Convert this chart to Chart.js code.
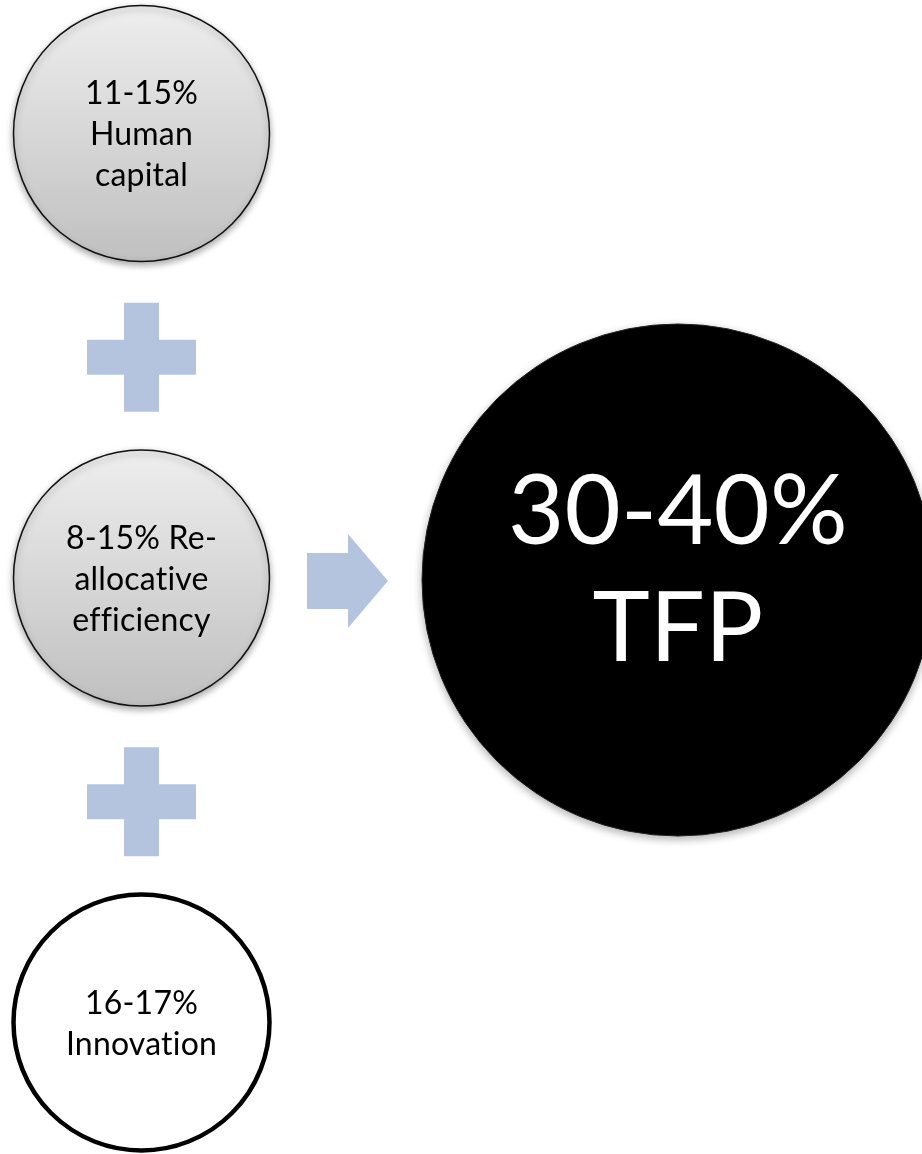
<!DOCTYPE html>
<html>
<head>
<meta charset="utf-8">
<script src="https://cdn.jsdelivr.net/npm/chart.js@4.4.0/dist/chart.umd.min.js"></script>
<style>
  html, body { margin: 0; padding: 0; background: #fff; }
  #wrap { width: 922px; height: 1154px; position: relative; }
</style>
</head>
<body>
<div id="wrap"><canvas id="tfpChart"></canvas></div>
<script>
// contributions to TFP growth (percent ranges)
const sources = ['Human capital', 'Re-allocative efficiency', 'Innovation'];
const lowPct = [11, 8, 16];
const highPct = [15, 15, 17];
const sourceLines = [
  ['11-15%', 'Human', 'capital'],
  ['8-15% Re-', 'allocative', 'efficiency'],
  ['16-17%', 'Innovation']
];
const totalName = 'TFP';
const totalLow = 30;
const totalHigh = 40;
const totalLines = ['30-40%', 'TFP'];

document.addEventListener('DOMContentLoaded', function() {
  // simple diagram layout (pixel space of the chart)
  const colX = 141.5, bigX = 678;
  const topY = 133.5, stepY = 444.5;
  const smallR = 128, bigR = 256;
  const blue = '#b4c4de';

  const nodes = sources.map((s, i) => ({ x: colX, y: topY + i * stepY, r: smallR }));
  const total = [{ x: bigX, y: topY + stepY + 2, r: bigR }];

  function grayGrad(ctx) {
    const chart = ctx.chart;
    if (ctx.type !== 'data' || !chart.scales || !chart.scales.y) return '#d8d8d8';
    const y = chart.scales.y.getPixelForValue(ctx.raw.y);
    const r = ctx.raw.r;
    if (!isFinite(y)) return '#d8d8d8';
    const g = chart.ctx.createLinearGradient(0, y - r, 0, y + r);
    g.addColorStop(0, '#eeeeee');
    g.addColorStop(1, '#c0c0c0');
    return g;
  }

  const decorPlugin = {
    id: 'decor',
    beforeDatasetDraw(chart, args) {
      const c = chart.ctx;
      c.save();
      if (args.index === 0) {
        c.shadowColor = 'rgba(0,0,0,0.35)';
        c.shadowBlur = 7;
        c.shadowOffsetY = 3;
      }
      if (args.index === 2) {
        c.shadowColor = 'rgba(0,0,0,0.3)';
        c.shadowBlur = 8;
        c.shadowOffsetY = 3;
      }
    },
    afterDatasetDraw(chart) {
      chart.ctx.restore();
    },
    beforeDatasetsDraw(chart) {
      const c = chart.ctx;
      const sx = chart.scales.x, sy = chart.scales.y;
      c.save();
      c.fillStyle = blue;
      // plus signs between the source circles
      for (let i = 0; i < nodes.length - 1; i++) {
        const cx = sx.getPixelForValue(colX);
        const cy = sy.getPixelForValue((nodes[i].y + nodes[i + 1].y) / 2 + 1.5);
        const arm = 54.5, half = 17.5;
        c.fillRect(cx - half, cy - arm, half * 2, arm * 2);
        c.fillRect(cx - arm, cy - half, arm * 2, half * 2);
      }
      // arrow toward the total
      const ay = sy.getPixelForValue(total[0].y + 1);
      const x0 = sx.getPixelForValue(307), xm = sx.getPixelForValue(348), x1 = sx.getPixelForValue(388);
      c.beginPath();
      c.moveTo(x0, ay - 28);
      c.lineTo(xm, ay - 28);
      c.lineTo(xm, ay - 47);
      c.lineTo(x1, ay);
      c.lineTo(xm, ay + 47);
      c.lineTo(xm, ay + 28);
      c.lineTo(x0, ay + 28);
      c.closePath();
      c.fill();
      c.restore();
    },
    afterDatasetsDraw(chart) {
      const c = chart.ctx;
      c.save();
      c.textAlign = 'center';
      c.textBaseline = 'alphabetic';
      c.letterSpacing = '0.2px'; // keeps Lato from joining "ti" / "ffi"
      const m0 = chart.getDatasetMeta(0).data;
      const m1 = chart.getDatasetMeta(1).data;
      const m2 = chart.getDatasetMeta(2).data;
      const els = [m0[0], m0[1], m1[0]];
      c.fillStyle = '#000';
      c.font = '32px Lato';
      sourceLines.forEach((lines, i) => {
        const el = els[i];
        const lh = 41;
        lines.forEach((t, k) => {
          c.fillText(t, el.x, el.y + (k - (lines.length - 1) / 2) * lh + 11.5);
        });
      });
      const big = m2[0];
      c.fillStyle = '#fff';
      c.font = '97px Lato';
      totalLines.forEach((t, k) => {
        c.fillText(t, big.x, big.y + (k - 0.5) * 117 + 22);
      });
      c.restore();
    }
  };

  const ctx = document.getElementById('tfpChart').getContext('2d');
  new Chart(ctx, {
    type: 'bubble',
    data: {
      datasets: [
        {
          label: sources.slice(0, 2).join(', '),
          data: nodes.slice(0, 2),
          backgroundColor: grayGrad,
          borderColor: '#111',
          borderWidth: 1.5
        },
        {
          label: sources[2],
          data: nodes.slice(2),
          backgroundColor: '#ffffff',
          borderColor: '#000',
          borderWidth: 4.5
        },
        {
          label: totalName + ' ' + totalLow + '-' + totalHigh + '%',
          data: total,
          backgroundColor: '#000',
          borderColor: '#222',
          borderWidth: 1
        }
      ]
    },
    options: {
      responsive: true,
      maintainAspectRatio: false,
      animation: false,
      events: [],
      layout: { padding: 0, autoPadding: false },
      plugins: {
        legend: { display: false },
        tooltip: { enabled: false }
      },
      scales: {
        x: { type: 'linear', min: 0, max: 922, display: false },
        y: { type: 'linear', min: 0, max: 1154, reverse: true, display: false }
      }
    },
    plugins: [decorPlugin]
  });
});
</script>
</body>
</html>
